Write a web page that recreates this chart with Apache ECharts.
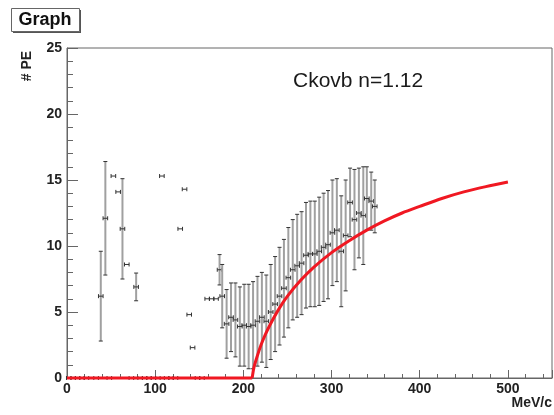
<!DOCTYPE html>
<html>
<head>
<meta charset="utf-8">
<script src="https://cdn.jsdelivr.net/npm/echarts@6/dist/echarts.min.js"></script>
<style>
  html, body { margin: 0; padding: 0; background: #fff; }
  #chart { width: 554px; height: 415px; }
</style>
</head>
<body>
<div id="chart"></div>
<script>
// Measured photo-electron yield vs. momentum (MeV/c)
const momentum = [
  38.3, 43.5, 52.6, 58.0, 62.9, 67.8, 78.4,
  107.6, 128.4, 133.3, 138.6, 142.4, 159, 164, 169, 173,
  176, 181, 186, 191, 196, 201, 206, 211, 216, 221, 226, 231, 236, 241, 246,
  251, 256, 261, 266, 271, 276, 281, 286, 291, 296, 301, 306, 311, 316, 321,
  326, 331, 336, 340, 345, 349
];
const photoElectrons = [
  6.2, 12.1, 15.3, 14.1, 11.3, 8.6, 6.9,
  15.3, 11.3, 14.3, 4.8, 2.3, 6.0, 6.0, 6.0, 8.2,
  6.2, 4.1, 4.6, 4.4, 3.9, 4.0, 3.9, 4.0, 4.3, 4.6, 4.3, 5.0, 5.6, 6.2, 6.8,
  7.6, 8.2, 8.5, 8.7, 9.3, 9.4, 9.4, 9.6, 9.9, 10.1, 11.0, 11.2, 9.6, 10.8, 13.3,
  12.0, 12.5, 12.3, 13.6, 13.4, 13.0
];
const peError = [
  3.4, 4.3, 0, 0, 3.8, 0, 1.05,
  0, 0, 0, 0, 0, 0, 0, 0, 1.15,
  2.4, 2.6, 2.6, 2.8, 3.0, 3.1, 3.2, 3.3, 3.4, 3.4, 3.5, 3.6, 3.6, 3.7, 3.7,
  3.8, 3.8, 3.9, 3.9, 4.0, 4.0, 4.0, 4.1, 4.1, 4.1, 4.0, 3.9, 4.2, 4.2, 2.6,
  3.8, 3.4, 3.7, 2.4, 2.2, 2.0
];
// Bins with no signal (value 0)
const zeroMomentum = [2, 7, 12, 17, 22, 33, 48, 73, 83, 88, 93, 98, 103, 113, 118, 123, 148, 153];
const momentumError = 2.6;

// Expected Cherenkov yield, n = 1.12
const curveMomentum = [0, 210, 212, 215, 220, 225, 230, 240, 250, 265, 280, 300, 320, 340, 360, 380, 400, 425, 450, 475, 500];
const curvePE       = [0, 0, 0.8, 1.5, 2.5, 3.3, 4.0, 5.2, 6.2, 7.4, 8.4, 9.5, 10.4, 11.2, 11.9, 12.5, 13.0, 13.6, 14.1, 14.5, 14.85];
const thresholdMomentum = 210;

const xTicks = { min: 0, max: 550, step: 100 };
const yTicks = { min: 0, max: 25, step: 5 };

const points = momentum.map((p, i) => [p, photoElectrons[i], momentumError, peError[i]])
  .concat(zeroMomentum.map(p => [p, 0, momentumError, 0]));

const flatPart = [], risingPart = [];
curveMomentum.forEach((p, i) => {
  if (p <= thresholdMomentum) flatPart.push([p, curvePE[i]]);
  if (p >= thresholdMomentum) risingPart.push([p, curvePE[i]]);
});

function renderErrors(params, api) {
  const x = api.value(0), y = api.value(1), ex = api.value(2), ey = api.value(3);
  const l = api.coord([x - ex, y]);
  const r = api.coord([x + ex, y]);
  const dark = { stroke: '#333', lineWidth: 1 };
  const children = [
    { type: 'line', shape: { x1: l[0], y1: l[1], x2: r[0], y2: r[1] }, style: dark },
    { type: 'line', shape: { x1: l[0], y1: l[1] - 2, x2: l[0], y2: l[1] + 2 }, style: dark },
    { type: 'line', shape: { x1: r[0], y1: r[1] - 2, x2: r[0], y2: r[1] + 2 }, style: dark }
  ];
  if (ey > 0) {
    const t = api.coord([x, y + ey]);
    const b = api.coord([x, y - ey]);
    children.unshift(
      { type: 'line', shape: { x1: t[0], y1: t[1], x2: b[0], y2: b[1] }, style: { stroke: '#a0a0a0', lineWidth: 2 } },
      { type: 'line', shape: { x1: t[0] - 2, y1: t[1], x2: t[0] + 2, y2: t[1] }, style: dark },
      { type: 'line', shape: { x1: b[0] - 2, y1: b[1], x2: b[0] + 2, y2: b[1] }, style: dark }
    );
  }
  return { type: 'group', children };
}

const labelFont = { fontFamily: 'Liberation Sans, Arial, sans-serif', fontWeight: 'bold', fontSize: 14, color: '#222' };
const curveStyle = { color: '#f01822', width: 3 };

const chart = echarts.init(document.getElementById('chart'), null, { renderer: 'canvas' });
chart.setOption({
  animation: false,
  backgroundColor: '#fff',
  grid: { left: 67, right: 2, top: 48, bottom: 37, show: true, borderColor: '#666', borderWidth: 1, backgroundColor: 'transparent' },
  xAxis: {
    type: 'value', min: xTicks.min, max: xTicks.max, interval: xTicks.step,
    axisLine: { show: true, lineStyle: { color: '#666', width: 1 } },
    axisTick: { show: true, inside: true, length: 8, lineStyle: { color: '#666' } },
    minorTick: { show: true, splitNumber: 5, length: 4, lineStyle: { color: '#666' } },
    splitLine: { show: false },
    axisLabel: Object.assign({ margin: 4, showMaxLabel: false }, labelFont)
  },
  yAxis: {
    type: 'value', min: yTicks.min, max: yTicks.max, interval: yTicks.step,
    axisLine: { show: true, lineStyle: { color: '#666', width: 1 } },
    axisTick: { show: true, inside: true, length: 11, lineStyle: { color: '#666' } },
    minorTick: { show: true, splitNumber: 5, length: 6, lineStyle: { color: '#666' } },
    splitLine: { show: false },
    axisLabel: Object.assign({ margin: 5 }, labelFont)
  },
  graphic: [
    { type: 'rect', left: 13, top: 10, shape: { width: 68, height: 23 }, style: { fill: '#555' }, z: 10 },
    { type: 'rect', left: 11, top: 8, shape: { width: 68, height: 23 }, style: { fill: '#fff', stroke: '#666', lineWidth: 1 }, z: 11 },
    { type: 'text', x: 45, y: 20, style: { text: 'Graph', font: 'bold 18px "Liberation Sans", Arial, sans-serif', fill: '#111', align: 'center', verticalAlign: 'middle' }, z: 12 },
    { type: 'text', x: 27.5, y: 66, rotation: Math.PI / 2,
      style: { text: '# PE', font: 'bold 14px "Liberation Sans", Arial, sans-serif', fill: '#222', align: 'center', verticalAlign: 'middle' } },
    { type: 'text', x: 552, y: 403,
      style: { text: 'MeV/c', font: 'bold 14px "Liberation Sans", Arial, sans-serif', fill: '#222', align: 'right', verticalAlign: 'middle' } },
    { type: 'text', x: 293, y: 81,
      style: { text: 'Ckovb n=1.12', font: '21px "Liberation Sans", Arial, sans-serif', fill: '#1a1a1a', align: 'left', verticalAlign: 'middle' } }
  ],
  series: [
    { type: 'custom', renderItem: renderErrors, data: points, encode: { x: 0, y: 1 }, z: 2, clip: false },
    { type: 'line', data: flatPart, showSymbol: false, lineStyle: curveStyle, clip: false, z: 5 },
    { type: 'line', data: risingPart, smooth: 0.3, showSymbol: false, lineStyle: curveStyle, clip: false, z: 5 }
  ]
});
</script>
</body>
</html>
